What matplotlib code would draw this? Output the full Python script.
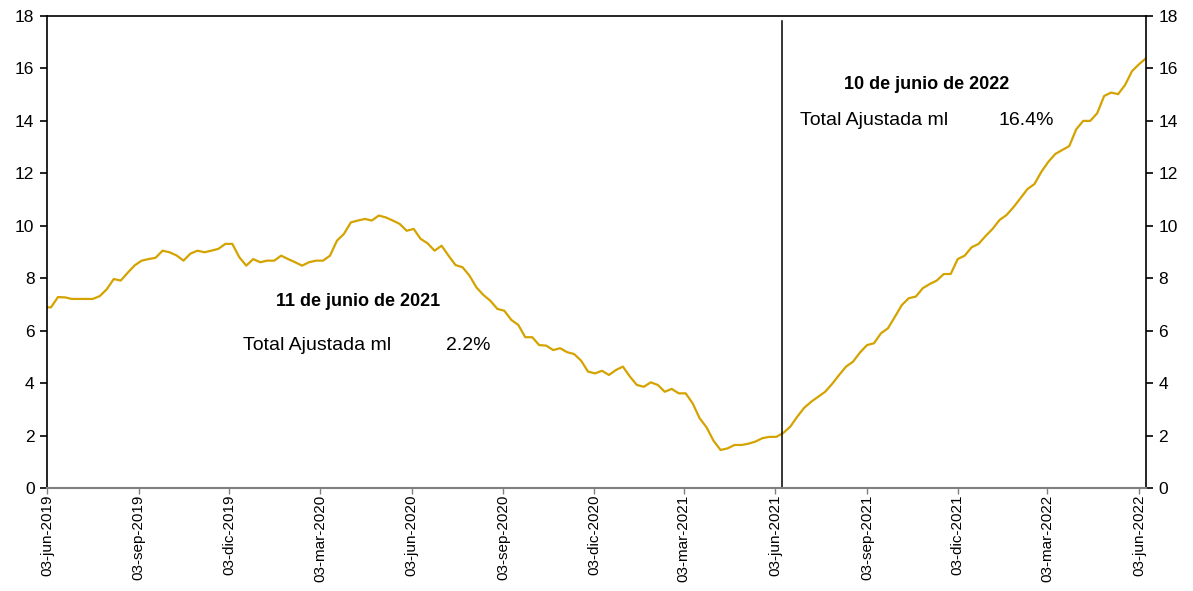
import matplotlib
matplotlib.use("Agg")
import matplotlib.pyplot as plt
import numpy as np
import pandas as pd

plt.rcParams['font.family'] = ['Liberation Sans', 'DejaVu Sans']

# Weekly series (Fridays), first point 31-may-2019, last 10-jun-2022
start_date = "2019-05-31"
values = [
    6.89, 6.89, 7.28, 7.27, 7.21, 7.21, 7.21, 7.21, 7.32, 7.58,
    7.97, 7.91, 8.21, 8.49, 8.67, 8.73, 8.78, 9.05, 8.99, 8.87,
    8.67, 8.94, 9.05, 8.99, 9.05, 9.12, 9.31, 9.31, 8.80, 8.48,
    8.73, 8.61, 8.67, 8.67, 8.86, 8.73, 8.61, 8.48, 8.61, 8.67,
    8.67, 8.86, 9.43, 9.69, 10.13, 10.20, 10.26, 10.20, 10.39, 10.32,
    10.20, 10.07, 9.81, 9.88, 9.50, 9.33, 9.05, 9.24, 8.86, 8.50,
    8.42, 8.10, 7.65, 7.36, 7.14, 6.83, 6.76, 6.41, 6.22, 5.75,
    5.75, 5.45, 5.43, 5.26, 5.33, 5.18, 5.11, 4.86, 4.44, 4.37,
    4.47, 4.31, 4.50, 4.63, 4.25, 3.93, 3.86, 4.03, 3.93, 3.67,
    3.78, 3.61, 3.61, 3.23, 2.66, 2.31, 1.80, 1.45, 1.51, 1.64,
    1.64, 1.69, 1.77, 1.90, 1.95, 1.95, 2.10, 2.34, 2.72, 3.06,
    3.29, 3.48, 3.67, 3.97, 4.31, 4.63, 4.82, 5.17, 5.45, 5.52,
    5.90, 6.09, 6.53, 6.98, 7.24, 7.30, 7.62, 7.78, 7.91, 8.16,
    8.16, 8.73, 8.86, 9.18, 9.31, 9.61, 9.88, 10.22, 10.41, 10.71,
    11.05, 11.40, 11.59, 12.06, 12.44, 12.74, 12.89, 13.04, 13.68, 14.00,
    14.00, 14.29, 14.95, 15.08, 15.02, 15.37, 15.90, 16.16, 16.39,
]
dates = pd.date_range(start_date, periods=len(values), freq="7D")

tick_dates = pd.to_datetime([
    "2019-06-03", "2019-09-03", "2019-12-03", "2020-03-03", "2020-06-03",
    "2020-09-03", "2020-12-03", "2021-03-03", "2021-06-03", "2021-09-03",
    "2021-12-03", "2022-03-03", "2022-06-03",
])
tick_labels = [
    "03-jun-2019", "03-sep-2019", "03-dic-2019", "03-mar-2020", "03-jun-2020",
    "03-sep-2020", "03-dic-2020", "03-mar-2021", "03-jun-2021", "03-sep-2021",
    "03-dic-2021", "03-mar-2022", "03-jun-2022",
]
marker_date = pd.Timestamp("2021-06-10")
title_2021 = "11 de junio de 2021"
title_2022 = "10 de junio de 2022"
series_label = "Total Ajustada ml"
value_2021 = "2.2%"
value_2022 = "16.4%"

fig = plt.figure(figsize=(11.93, 5.91), dpi=100)
ax = fig.add_axes([47/1193, 1-488/591, (1146-47)/1193, (488-16)/591])

ax.plot(dates, values, color="#D4A300", lw=1.6, solid_joinstyle="round")
ax.set_xlim(pd.Timestamp("2019-06-03"), pd.Timestamp("2022-06-10"))
ax.set_ylim(0, 18)
ax.set_yticks(np.arange(0, 19, 2))
ax.set_xticks(tick_dates)
ax.set_xticklabels(tick_labels, rotation=90, fontsize=11)

ax.axvline(marker_date, ymin=0, ymax=0.99, color="black", lw=1.1)

for s in ["left", "right", "top"]:
    ax.spines[s].set_color("black")
    ax.spines[s].set_linewidth(1.2)
ax.spines["bottom"].set_color("#808080")
ax.spines["bottom"].set_linewidth(1.5)

ax.tick_params(axis="y", which="both", direction="out", length=5, width=1.2,
               left=True, right=True, labelleft=True, labelright=True,
               labelsize=12.5, pad=4)
ax.tick_params(axis="x", direction="out", length=4, width=1, color="#808080",
               labelsize=11, pad=1)

# Annotations
ax.text(pd.Timestamp("2020-04-10"), 7.13, title_2021, fontsize=13,
        fontweight="bold", ha="center", va="center")
ax.text(pd.Timestamp("2019-12-17"), 5.42, series_label, fontsize=14,
        ha="left", va="center")
ax.text(pd.Timestamp("2020-07-07"), 5.42, value_2021, fontsize=14,
        ha="left", va="center")
ax.text(pd.Timestamp("2021-11-02"), 15.37, title_2022, fontsize=13,
        fontweight="bold", ha="center", va="center")
ax.text(pd.Timestamp("2021-06-28"), 14.01, series_label, fontsize=14,
        ha="left", va="center")
ax.text(pd.Timestamp("2022-01-13"), 14.01, value_2022, fontsize=14,
        ha="left", va="center")

fig.savefig("out.png", dpi=100)
